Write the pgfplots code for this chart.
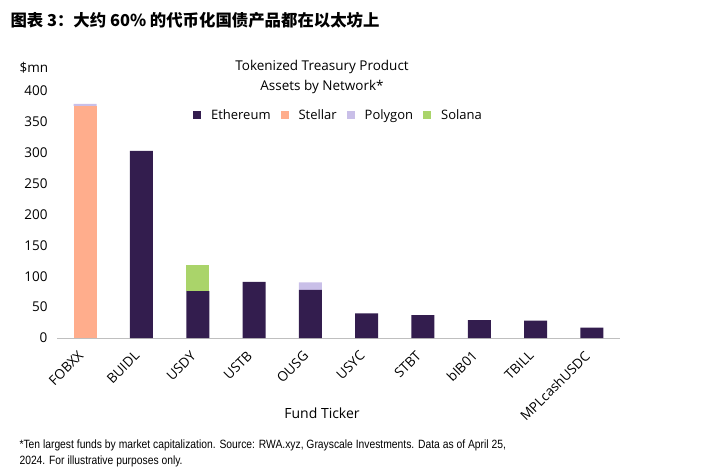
\documentclass[border=0pt]{standalone}
\usepackage{fontspec}
\setmainfont{Open Sans}
\newfontfamily\cjk{Noto Sans CJK SC}
\newfontfamily\narrow{Liberation Sans}[FakeStretch=0.86]
\usepackage{pgfplots}
\pgfplotsset{compat=1.18}

\definecolor{eth}{HTML}{331D4E}
\definecolor{xlm}{HTML}{FFAD8C}
\definecolor{pol}{HTML}{C9BFE8}
\definecolor{sol}{HTML}{AAD46A}

\begin{document}
\begin{tikzpicture}[x=1pt,y=1pt]
\path[use as bounding box] (0,0) rectangle (709,-471);
\node[anchor=west,font=\cjk\bfseries\fontsize{16.4}{18}\selectfont] at (7,-20) {图表 3：大约 60\% 的代币化国债产品都在以太坊上};
\node[anchor=west,font=\fontsize{13.5}{16}\selectfont] at (16,-68) {\$mn};
\node[align=center,font=\fontsize{13.5}{20}\selectfont] at (322,-77) {Tokenized Treasury Product\\Assets by Network*};
\node[font=\fontsize{14}{16}\selectfont] at (322,-413) {Fund Ticker};
\node[anchor=west,align=left,font=\narrow\fontsize{12}{16}\selectfont] at (16,-453)
  {*Ten largest funds by market capitalization. Source: RWA.xyz, Grayscale Investments. Data as of April 25,\\2024. For illustrative purposes only.};
\begin{axis}[
  at={(57pt,-338pt)}, anchor=south west,
  scale only axis, width=563pt, height=247pt,
  ybar stacked, bar width=23pt,
  xmin=-0.5, xmax=9.5, ymin=0, ymax=400,
  xtick={0,...,9},
  xticklabels={FOBXX,BUIDL,USDY,USTB,OUSG,USYC,STBT,bIB01,TBILL,MPLcashUSDC},
  ytick={0,50,...,400},
  axis x line=bottom, axis y line=left,
  x axis line style={draw=black!25,-},
  y axis line style={draw=none},
  major tick length=0pt,
  tick label style={font=\fontsize{13.5}{16}\selectfont},
  /pgf/number format/assume math mode=true,
  xticklabel style={xshift=-2pt, yshift=-13pt, rotate=45, anchor=east},
  yticklabel style={anchor=east, xshift=-6pt},
  legend columns=4,
  legend style={at={(0.5,0.903)}, anchor=center, draw=none, fill=none,
    font=\fontsize{13}{16}\selectfont, column sep=8pt},
  legend image code/.code={\fill[#1] (0pt,-4pt) rectangle (8pt,4pt);},
  every axis plot/.append style={draw=none},
]
\addplot[fill=eth] coordinates {(0,0) (1,303) (2,76) (3,91) (4,78) (5,40) (6,37) (7,29) (8,28) (9,17)};
\addlegendentry{Ethereum}
\addplot[fill=xlm] coordinates {(0,376) (1,0) (2,0) (3,0) (4,0) (5,0) (6,0) (7,0) (8,0) (9,0)};
\addlegendentry{Stellar}
\addplot[fill=pol] coordinates {(0,3) (1,0) (2,0) (3,0) (4,12) (5,0) (6,0) (7,0) (8,0) (9,0)};
\addlegendentry{Polygon}
\addplot[fill=sol] coordinates {(0,0) (1,0) (2,43) (3,0) (4,0) (5,0) (6,0) (7,0) (8,0) (9,0)};
\addlegendentry{Solana}
\end{axis}
\end{tikzpicture}
\end{document}
